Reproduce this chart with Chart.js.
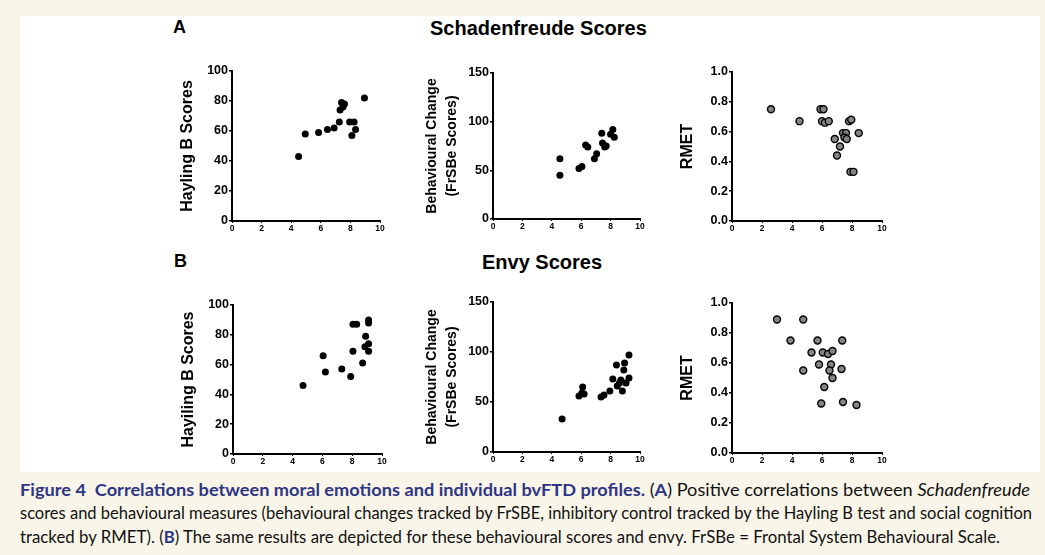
<!DOCTYPE html>
<html>
<head>
<meta charset="utf-8">
<script src="https://cdn.jsdelivr.net/npm/chart.js@4"></script>
<style>
  body { margin: 0; background: #f9f6e9; width: 1045px; height: 555px; overflow: hidden; position: relative; font-family: "Liberation Sans", Arial, sans-serif; }
  #panel { position: absolute; left: 20px; top: 16px; width: 1020px; height: 456px; background: #fff; }
  .lbl { position: absolute; font-weight: bold; color: #000; white-space: nowrap; }
  .box { position: absolute; }
  .cap { position: absolute; left: 20px; font-family: Lato, "Open Sans", sans-serif; font-size: 17.5px; color: #111; white-space: nowrap; transform-origin: 0 50%; line-height: 20px; }
  .nv { color: #2f3585; font-weight: bold; }
</style>
</head>
<body>
<div id="panel"></div>
<div class="lbl" style="left:173px;top:17px;font-size:18px;">A</div>
<div class="lbl" id="t1" style="left:430px;top:17px;font-size:20px;">Schadenfreude Scores</div>
<div class="lbl" style="left:174px;top:251px;font-size:18px;">B</div>
<div class="lbl" id="t2" style="left:482px;top:251px;font-size:20px;">Envy Scores</div>

<div class="box" id="b1"><canvas id="c1"></canvas></div>
<div class="box" id="b2"><canvas id="c2"></canvas></div>
<div class="box" id="b3"><canvas id="c3"></canvas></div>
<div class="box" id="b4"><canvas id="c4"></canvas></div>
<div class="box" id="b5"><canvas id="c5"></canvas></div>
<div class="box" id="b6"><canvas id="c6"></canvas></div>

<div class="cap" id="cap1" style="top:480px;"><span class="nv">Figure 4&nbsp; Correlations between moral emotions and individual bvFTD profiles.</span> (<span class="nv">A</span>) Positive correlations between <i>Schadenfreude</i></div>
<div class="cap" id="cap2" style="top:503px;">scores and behavioural measures (behavioural changes tracked by FrSBE, inhibitory control tracked by the Hayling B test and social cognition</div>
<div class="cap" id="cap3" style="top:527px;">tracked by RMET). (<span class="nv">B</span>) The same results are depicted for these behavioural scores and envy. FrSBe = Frontal System Behavioural Scale.</div>

<script>
// Schadenfreude (A)
const schadHaylingX = [4.5, 4.95, 5.85, 6.45, 6.9, 7.25, 7.3, 7.4, 7.5, 7.6, 7.95, 8.25, 8.1, 8.35, 8.95];
const schadHaylingY = [43, 58, 59, 61, 62, 66, 74, 79, 76, 78, 66, 66, 57, 61, 82];

const schadFrsbeX = [4.55, 4.55, 5.85, 6.05, 6.3, 6.45, 6.9, 7.05, 7.4, 7.45, 7.6, 7.7, 8.0, 8.15, 8.25];
const schadFrsbeY = [62, 45, 52, 54, 76, 74, 62, 67, 88, 78, 74, 75, 87, 92, 84];

const schadRmetX = [2.6, 4.5, 5.9, 6.1, 6.0, 6.2, 6.45, 6.85, 7.0, 7.2, 7.4, 7.6, 7.5, 7.65, 7.8, 7.95, 7.9, 8.1, 8.45];
const schadRmetY = [0.75, 0.67, 0.75, 0.75, 0.67, 0.66, 0.67, 0.55, 0.44, 0.50, 0.59, 0.59, 0.56, 0.55, 0.67, 0.68, 0.33, 0.33, 0.59];

// Envy (B)
const envyHaylingX = [4.7, 6.05, 6.2, 7.3, 7.9, 8.05, 8.05, 8.3, 8.7, 8.9, 8.85, 9.1, 9.1, 9.1, 9.1];
const envyHaylingY = [46, 66, 55, 57, 52, 69, 87, 87, 61, 79, 72, 90, 88, 74, 69];

const envyFrsbeX = [4.7, 5.85, 6.05, 6.1, 6.2, 7.35, 7.55, 7.95, 8.15, 8.4, 8.45, 8.6, 8.7, 8.8, 8.9, 8.95, 9.05, 9.25, 9.25];
const envyFrsbeY = [33, 56, 59, 65, 58, 55, 57, 61, 73, 87, 66, 69, 72, 61, 82, 89, 69, 74, 97];

const envyRmetX = [3.0, 4.75, 3.9, 5.7, 5.3, 6.05, 6.4, 6.7, 7.35, 5.8, 6.6, 6.5, 4.75, 6.7, 7.3, 6.15, 5.95, 7.4, 8.3];
const envyRmetY = [0.89, 0.89, 0.75, 0.75, 0.67, 0.67, 0.66, 0.68, 0.75, 0.59, 0.59, 0.55, 0.55, 0.50, 0.56, 0.44, 0.33, 0.34, 0.32];

const xTicks = [0, 2, 4, 6, 8, 10];
const haylingTicks = [0, 20, 40, 60, 80, 100];
const frsbeTicks = [0, 50, 100, 150];
const rmetTicks = [0.0, 0.2, 0.4, 0.6, 0.8, 1.0];

const Y_W = 80, PAD_T = 10, PAD_R = 12, X_H = 20;

function pts(xs, ys) {
  return xs.map((x, i) => ({ x: x, y: ys[i] }));
}

function makeChart(id, area, xs, ys, yTicks, title, titleFont, titlePad, titleLH, grey) {
  const box = document.getElementById("b" + id);
  const w = Y_W + (area.r - area.l) + PAD_R;
  const h = PAD_T + (area.b - area.t) + X_H;
  box.style.left = (area.l - Y_W) + "px";
  box.style.top = (area.t - PAD_T) + "px";
  const cv = document.getElementById("c" + id);
  cv.width = w; cv.height = h;
  cv.style.width = w + "px"; cv.style.height = h + "px";

  const yMax = yTicks[yTicks.length - 1];
  const isRmet = yMax === 1;

  new Chart(cv.getContext("2d"), {
    type: "scatter",
    data: {
      datasets: [{
        data: pts(xs, ys),
        backgroundColor: grey ? "#858585" : "#000",
        borderColor: "#000",
        borderWidth: grey ? 1.4 : 0,
        pointRadius: 3.5,
        pointHoverRadius: 3.5
      }]
    },
    options: {
      responsive: false,
      devicePixelRatio: 1,
      animation: false,
      layout: { padding: { top: PAD_T, right: PAD_R, left: 0, bottom: 0 } },
      plugins: { legend: { display: false }, tooltip: { enabled: false } },
      scales: {
        x: {
          type: "linear", min: 0, max: 10,
          afterBuildTicks: s => { s.ticks = xTicks.map(v => ({ value: v })); },
          afterFit: s => { s.height = X_H; },
          border: { color: "#000", width: 2 },
          grid: { display: true, drawOnChartArea: false, drawTicks: true, tickLength: 2, color: "#000", lineWidth: 1 },
          ticks: { color: "#000", padding: 1, maxRotation: 0, autoSkip: false, font: { family: "Liberation Sans", size: 8.5, weight: "bold" } }
        },
        y: {
          type: "linear", min: 0, max: yMax,
          afterBuildTicks: s => { s.ticks = yTicks.map(v => ({ value: v })); },
          afterFit: s => { s.width = Y_W; },
          border: { color: "#000", width: 2 },
          grid: { display: true, drawOnChartArea: false, drawTicks: true, tickLength: 3, color: "#000", lineWidth: 1.5 },
          ticks: {
            color: "#000", padding: 1, autoSkip: false,
            font: { family: "Liberation Sans", size: 12.5, weight: "bold" },
            callback: v => isRmet ? Number(v).toFixed(1) : v
          },
          title: {
            display: true, text: title, color: "#000",
            padding: { top: titlePad, bottom: 0 },
            font: { family: "Liberation Sans", size: titleFont, weight: "bold", lineHeight: titleLH }
          }
        }
      }
    }
  });
}

makeChart(1, { l: 232, r: 380, t: 71, b: 221 }, schadHaylingX, schadHaylingY, haylingTicks, "Hayling B Scores", 16, 26, 1.2, false);
makeChart(2, { l: 493, r: 640, t: 73, b: 219 }, schadFrsbeX, schadFrsbeY, frsbeTicks, ["Behavioural Change", "(FrSBe Scores)"], 14, 9, 1.43, false);
makeChart(3, { l: 732, r: 882, t: 72, b: 221 }, schadRmetX, schadRmetY, rmetTicks, "RMET", 16, 26, 1.2, true);
makeChart(4, { l: 233, r: 382, t: 305, b: 454 }, envyHaylingX, envyHaylingY, haylingTicks, "Hayiling B Scores", 16, 26, 1.2, false);
makeChart(5, { l: 493, r: 640, t: 302, b: 452 }, envyFrsbeX, envyFrsbeY, frsbeTicks, ["Behavioural Change", "(FrSBe Scores)"], 14, 9, 1.43, false);
makeChart(6, { l: 732, r: 882, t: 303, b: 453 }, envyRmetX, envyRmetY, rmetTicks, "RMET", 16, 26, 1.2, true);

// stretch caption lines to the widths seen in the figure
const capWidths = { cap1: 1010, cap2: 1012, cap3: 980 };
Object.keys(capWidths).forEach(id => {
  const el = document.getElementById(id);
  const w = el.getBoundingClientRect().width;
  el.style.transform = "scaleX(" + (capWidths[id] / w) + ")";
});
</script>
</body>
</html>
